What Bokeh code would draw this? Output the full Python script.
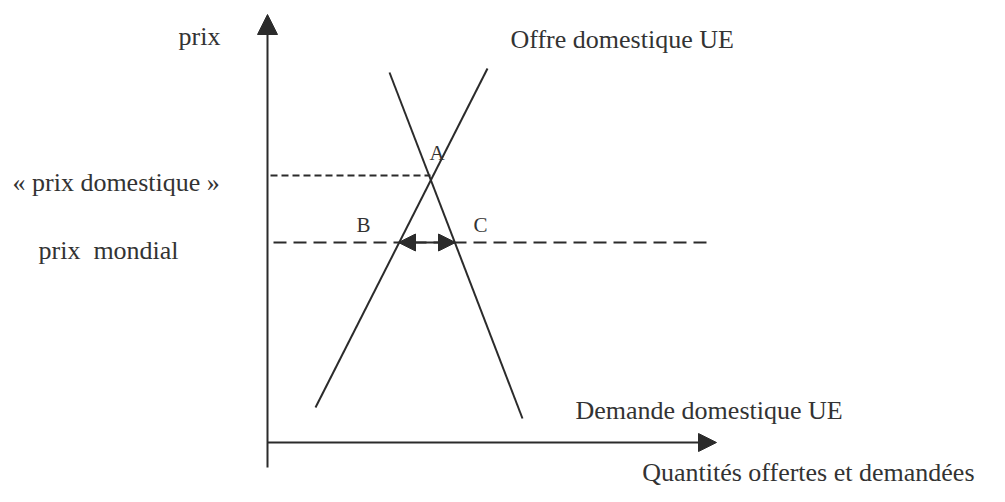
from bokeh.plotting import figure
from bokeh.models import Range1d, Arrow, NormalHead, ColumnDataSource
from bokeh.core.properties import value
from bokeh.embed import file_html
from bokeh.resources import INLINE

# ---- diagram data (diagram coordinates, y grows downward) ----
demand_q = [389, 522]
demand_p = [72, 418]
supply_q = [487, 315]
supply_p = [68, 407]
eq_q = 430            # point A
eq_p = 175            # domestic price
world_p = 242         # world price
world_q_end = 707
supply_at_world = 398  # B side
demand_at_world = 455  # C side
axis_origin_q = 267
axis_origin_p = 442
axis_q_max = 716
axis_p_top = 14
axis_p_bottom = 467

label_text = ["prix", "Offre domestique UE", "\u00ab prix domestique \u00bb",
              "prix\u00a0 mondial", "Demande domestique UE"]
label_x = [178, 510, 12, 38, 575]
label_y = [36, 39, 182, 250, 410]

bottom_text = ["Quantit\u00e9s offertes et demand\u00e9es"]
bottom_x = [974]
bottom_y = [472]

point_text = ["A", "B", "C"]
point_x = [429, 356, 473]
point_y = [152, 224, 224]

INK = "#2b2b2b"
FONT = "Liberation Serif"

p = figure(width=989, height=486, x_range=Range1d(0, 989), y_range=Range1d(486, 0),
           output_backend="svg", toolbar_location=None, min_border=0)
p.axis.visible = False
p.grid.visible = False
p.outline_line_color = None
p.background_fill_color = "white"

# axes with arrowheads
p.add_layout(Arrow(x_start=axis_origin_q, y_start=axis_p_bottom, x_end=axis_origin_q, y_end=axis_p_top,
                   line_color=INK, line_width=2,
                   end=NormalHead(size=20, fill_color=INK, line_color=INK, line_width=1)))
p.add_layout(Arrow(x_start=axis_origin_q, y_start=axis_origin_p, x_end=axis_q_max, y_end=axis_origin_p,
                   line_color=INK, line_width=2,
                   end=NormalHead(size=18, fill_color=INK, line_color=INK, line_width=1)))

# demand and supply
p.line(demand_q, demand_p, line_color=INK, line_width=2)
p.line(supply_q, supply_p, line_color=INK, line_width=2)

# price lines
p.line([axis_origin_q + 3, eq_q], [eq_p, eq_p], line_color=INK, line_width=2, line_dash="7 4")
p.line([axis_origin_q + 6, world_q_end], [world_p, world_p], line_color=INK, line_width=2, line_dash="13 7")

# double arrow (imports)
p.add_layout(Arrow(x_start=supply_at_world, y_start=world_p, x_end=demand_at_world, y_end=world_p,
                   line_color=INK, line_width=2,
                   start=NormalHead(size=17, fill_color=INK, line_color=INK, line_width=1),
                   end=NormalHead(size=17, fill_color=INK, line_color=INK, line_width=1)))

src = ColumnDataSource(dict(x=label_x, y=label_y, t=label_text))
p.text(x="x", y="y", text="t", source=src, text_font=value(FONT), text_font_size="26px",
       text_color="#333333", text_align="left", text_baseline="alphabetic")

src_b = ColumnDataSource(dict(x=bottom_x, y=bottom_y, t=bottom_text))
p.text(x="x", y="y", text="t", source=src_b, text_font=value(FONT), text_font_size="26px",
       text_color="#333333", text_align="right", text_baseline="alphabetic")

src2 = ColumnDataSource(dict(x=point_x, y=point_y, t=point_text))
p.text(x="x", y="y", text="t", source=src2, text_font=value(FONT), text_font_size="21px",
       text_color="#333333", text_align="left", text_baseline="alphabetic")

open("out.html", "w").write(file_html(p, INLINE))
